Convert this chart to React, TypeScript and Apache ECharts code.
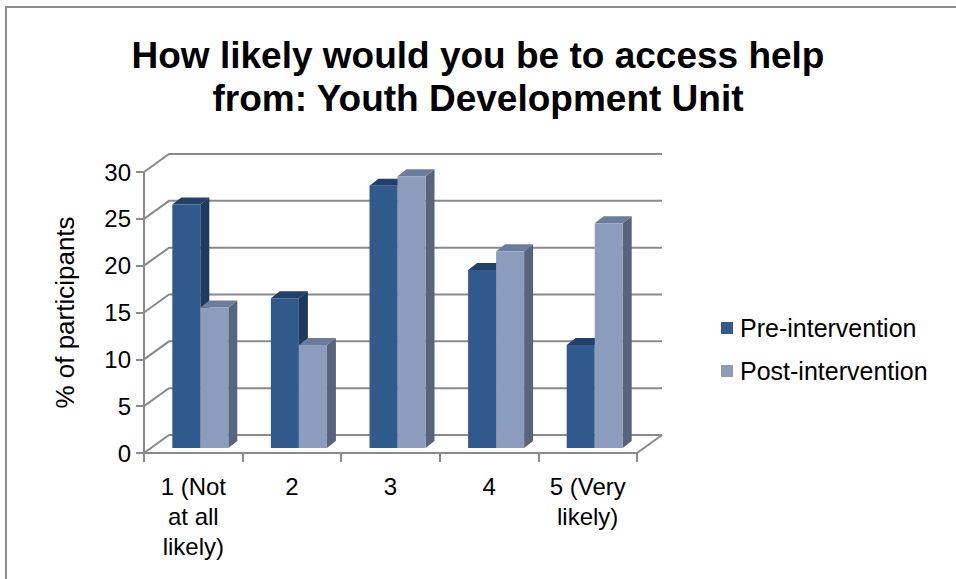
import React, { useEffect, useRef } from "react";
import * as echarts from "echarts";

const categories = ["1 (Not\nat all\nlikely)", "2", "3", "4", "5 (Very\nlikely)"];
const preValues = [26, 16, 28, 19, 11];
const postValues = [15, 11, 29, 21, 24];
const yTicks = [0, 5, 10, 15, 20, 25, 30];
const seriesNames = ["Pre-intervention", "Post-intervention"];
const titleText = "How likely would you be to access help\nfrom: Youth Development Unit";
const yAxisName = "% of participants";

const WALL_DX = 25;
const WALL_DY = -18;
const PLANE_DX = 7;
const PLANE_DY = -5;
const BAR_DX = 9;
const BAR_DY = -7;
const BAR_FRAC = 0.284;
const GRID_COLOR = "#8a8a8a";
const LABEL_FONT = "Liberation Sans";

const palettes = [
  { front: "#2f5a8b", top: "#22416a", side: "#1e3a5d" },
  { front: "#8b9cbd", top: "#6c7c9b", side: "#58637c" },
];

function makeBarRender(seriesIdx: number) {
  return (params: any, api: any) => {
    const idx = api.value(0);
    const val = api.value(1);
    const base = api.coord([idx, 0]);
    const top = api.coord([idx, val]);
    const catW = api.size([1, 0])[0];
    const w = catW * BAR_FRAC;
    const cx = base[0] + PLANE_DX;
    const x0 = seriesIdx === 0 ? cx - w : cx;
    const y0 = top[1] + PLANE_DY;
    const y1 = base[1] + PLANE_DY;
    const p = palettes[seriesIdx];
    return {
      type: "group",
      children: [
        {
          type: "polygon",
          shape: {
            points: [
              [x0 + w, y0],
              [x0 + w + BAR_DX, y0 + BAR_DY],
              [x0 + w + BAR_DX, y1 + BAR_DY],
              [x0 + w, y1],
            ],
          },
          style: { fill: p.side },
        },
        {
          type: "polygon",
          shape: {
            points: [
              [x0, y0],
              [x0 + w, y0],
              [x0 + w + BAR_DX, y0 + BAR_DY],
              [x0 + BAR_DX, y0 + BAR_DY],
            ],
          },
          style: { fill: p.top },
        },
        {
          type: "rect",
          shape: { x: x0, y: y0, width: w, height: y1 - y0 },
          style: { fill: p.front },
        },
      ],
    };
  };
}

function wallRender(params: any, api: any) {
  const cs = params.coordSys;
  const v = api.value(1);
  const y = api.coord([0, v])[1];
  const children: any[] = [
    {
      type: "polyline",
      shape: {
        points: [
          [cs.x, y],
          [cs.x + WALL_DX, y + WALL_DY],
          [cs.x + cs.width + WALL_DX, y + WALL_DY],
        ],
      },
      style: { stroke: GRID_COLOR, lineWidth: 2, fill: "none" },
    },
  ];
  if (v === 0) {
    children.push({
      type: "line",
      shape: { x1: cs.x + cs.width, y1: y, x2: cs.x + cs.width + WALL_DX, y2: y + WALL_DY },
      style: { stroke: GRID_COLOR, lineWidth: 2 },
    });
  }
  return { type: "group", children };
}

export default function App() {
  const ref = useRef<HTMLDivElement>(null);
  useEffect(() => {
    document.body.style.margin = "0";
    if (!ref.current) return;
    const chart = echarts.init(ref.current, undefined, { renderer: "svg" });
    chart.setOption({
      animation: false,
      backgroundColor: "#ffffff",
      title: {
        text: titleText,
        left: "center",
        top: 29,
        textStyle: {
          fontFamily: "Liberation Sans",
          fontWeight: "bold",
          fontSize: 37,
          lineHeight: 43,
          color: "#000",
        },
      },
      legend: {
        data: seriesNames,
        orient: "vertical",
        left: 716,
        top: 310,
        itemWidth: 12,
        itemHeight: 12,
        itemGap: 17,
        icon: "rect",
        textStyle: {
          fontFamily: LABEL_FONT,
          fontSize: 25,
          lineHeight: 26,
          color: "#000",
          padding: [0, 0, 0, 2],
        },
      },
      grid: { left: 144, top: 172, width: 493, height: 281, containLabel: false },
      xAxis: {
        type: "category",
        data: categories,
        axisLine: { show: true, lineStyle: { color: GRID_COLOR, width: 2 } },
        axisTick: { show: true, length: 9, lineStyle: { color: GRID_COLOR, width: 2 } },
        axisLabel: {
          fontFamily: LABEL_FONT,
          fontSize: 24,
          color: "#000",
          margin: 18,
          lineHeight: 30,
          interval: 0,
        },
      },
      yAxis: {
        type: "value",
        min: 0,
        max: 30,
        interval: 5,
        name: yAxisName,
        nameLocation: "middle",
        nameGap: 66,
        nameTextStyle: { fontFamily: LABEL_FONT, fontSize: 26, color: "#000" },
        axisLine: { show: true, lineStyle: { color: GRID_COLOR, width: 2 } },
        axisTick: { show: true, length: 8, lineStyle: { color: GRID_COLOR, width: 2 } },
        splitLine: { show: false },
        axisLabel: { fontFamily: LABEL_FONT, fontSize: 24, color: "#000", margin: 13 },
      },
      graphic: [
        {
          type: "rect",
          shape: { x: 6, y: 7, width: 1200, height: 1200 },
          style: { fill: "none", stroke: "#8c8c8c", lineWidth: 2 },
          silent: true,
        },
      ],
      series: [
        {
          name: "walls",
          type: "custom",
          renderItem: wallRender,
          data: yTicks.map((v) => [0, v]),
          encode: { x: 0, y: 1 },
          clip: false,
          z: 1,
          silent: true,
        },
        {
          name: seriesNames[0],
          type: "custom",
          renderItem: makeBarRender(0),
          data: preValues.map((v, i) => [i, v]),
          encode: { x: 0, y: 1 },
          itemStyle: { color: palettes[0].front },
          clip: false,
          z: 2,
        },
        {
          name: seriesNames[1],
          type: "custom",
          renderItem: makeBarRender(1),
          data: postValues.map((v, i) => [i, v]),
          encode: { x: 0, y: 1 },
          itemStyle: { color: palettes[1].front },
          clip: false,
          z: 3,
        },
      ],
    });
    return () => chart.dispose();
  }, []);
  return <div ref={ref} style={{ width: 956, height: 579 }} />;
}
